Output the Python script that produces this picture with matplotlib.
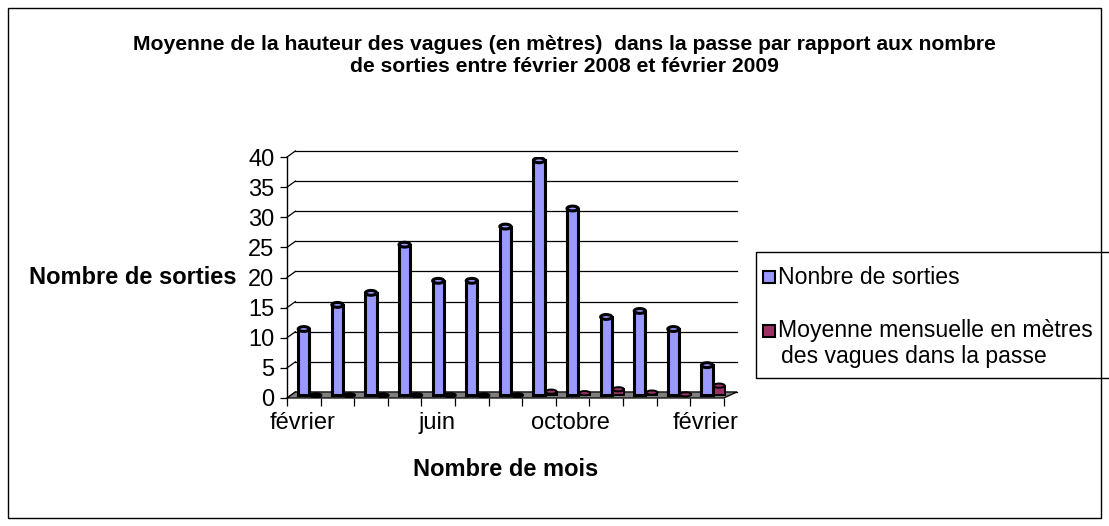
import matplotlib
matplotlib.use("Agg")
import matplotlib.pyplot as plt
from matplotlib.patches import Rectangle, Ellipse, Polygon
import numpy as np

months = ["février", "mars", "avril", "mai", "juin", "juillet", "août",
          "septembre", "octobre", "novembre", "décembre", "janvier", "février"]
shown_labels = {0: "février", 4: "juin", 8: "octobre", 12: "février"}
sorties = [11, 15, 17, 25, 19, 19, 28, 39, 31, 13, 14, 11, 5]
vagues = [0.0, 0.0, 0.0, 0.0, 0.0, 0.0, 0.0, 0.6, 0.35, 1.0, 0.45, 0.15, 1.6]
yticks = [0, 5, 10, 15, 20, 25, 30, 35, 40]

plt.rcParams['font.family'] = ['Liberation Sans', 'DejaVu Sans']

W, H = 1109, 526
fig = plt.figure(figsize=(W / 100, H / 100), dpi=100)
fig.patch.set_facecolor("white")
fig.add_artist(Rectangle((8 / W, 8 / H), (W - 16) / W, (H - 16) / H,
                         transform=fig.transFigure, fill=False, lw=1.0, ec="black"))

ax = fig.add_axes([287 / W, (H - 398) / H, 450 / W, (398 - 157) / H])
xmax = -0.5 + 450 / 33.6
ax.set_xlim(-0.5, xmax)
ax.set_ylim(0, 40)
for s in ax.spines.values():
    s.set_visible(False)
ax.set_facecolor("none")

dx, dy = 0.25, 1.0
for t in yticks:
    ax.plot([-0.5 + dx, xmax], [t + dy, t + dy], color="black", lw=0.9, zorder=1, clip_on=False)
    ax.plot([-0.5, -0.5 + dx], [t, t + dy], color="black", lw=0.9, zorder=1, clip_on=False)
ax.plot([-0.5, -0.5], [0, 40], color="black", lw=1.0, clip_on=False, zorder=1)
floor = Polygon([[-0.5, 0], [12.5, 0], [xmax, dy], [-0.5 + dx, dy]],
                closed=True, fc="#7f7f7f", ec="black", lw=0.9, zorder=2, clip_on=False)
ax.add_patch(floor)

bw = 0.33
blue = "#9999ff"
mag = "#993366"
x = np.arange(len(months))
base = 0.45
ax.bar(x, sorties, width=bw, bottom=base, color=blue, edgecolor="black", lw=2.2, zorder=3)
for xi, v in zip(x, sorties):
    ax.add_patch(Ellipse((xi, v + base), bw, 0.8, fc=blue, ec="black", lw=2.2, zorder=4))
mx = x + 0.36
ax.bar(mx, vagues, width=bw, bottom=base, color=mag, edgecolor="black", lw=1.4, zorder=3)
for xi, v in zip(mx, vagues):
    ax.add_patch(Ellipse((xi, v + base), bw, 0.7,
                         fc=(mag if v > 0 else "black"), ec="black", lw=1.4, zorder=4))

ax.set_yticks(yticks)
ax.set_yticklabels([str(t) for t in yticks], fontsize=17)
ax.tick_params(axis="y", length=5, pad=4, width=0.9)
ax.set_xticks([i - 0.5 for i in range(14)])
ax.set_xticklabels([""] * 14)
ax.tick_params(axis="x", length=6, width=0.9, direction="out")
for i, lab in shown_labels.items():
    ax.text(i - 0.05, -2.4, lab, ha="center", va="top", fontsize=17)

fig.text(564 / W, (H - 45) / H,
         "Moyenne de la hauteur des vagues (en mètres)  dans la passe par rapport aux nombre",
         ha="center", va="center", fontsize=15.2, fontweight="bold")
fig.text(564 / W, (H - 67) / H,
         "de sorties entre février 2008 et février 2009",
         ha="center", va="center", fontsize=15.2, fontweight="bold")
fig.text(133 / W, (H - 278) / H, "Nombre de sorties", ha="center", va="center",
         fontsize=17, fontweight="bold")
fig.text(506 / W, (H - 469) / H, "Nombre de mois", ha="center", va="center",
         fontsize=17, fontweight="bold")

lx0, ly0, lx1, ly1 = 756, 252, 1112, 378
fig.add_artist(Rectangle((lx0 / W, (H - ly1) / H), (lx1 - lx0) / W, (ly1 - ly0) / H,
                         transform=fig.transFigure, fill=False, lw=1.0, ec="black"))
for (yy, col) in [(277, blue), (331, mag)]:
    fig.add_artist(Rectangle((763 / W, (H - yy - 6) / H), 12 / W, 12 / H,
                             transform=fig.transFigure, fc=col, ec="black", lw=1.5))
fig.text(778 / W, (H - 277) / H, "Nonbre de sorties", ha="left", va="center", fontsize=16.6)
fig.text(778 / W, (H - 331) / H, "Moyenne mensuelle en mètres", ha="left", va="center", fontsize=16.6)
fig.text(781 / W, (H - 356) / H, "des vagues dans la passe", ha="left", va="center", fontsize=16.6)

fig.savefig("out.png", dpi=100)
